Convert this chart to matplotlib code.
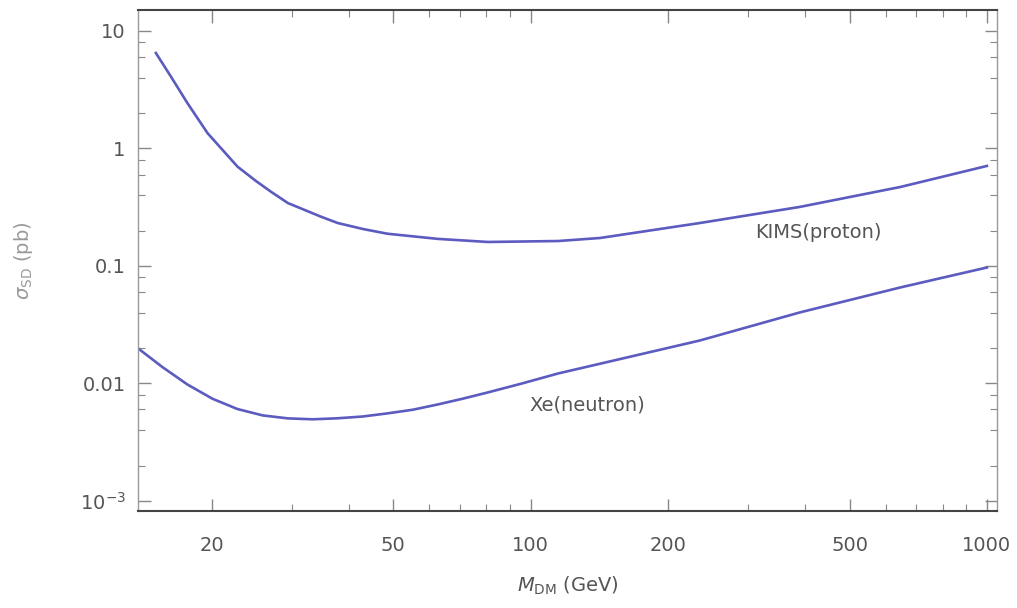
import matplotlib.pyplot as plt
from matplotlib.ticker import FixedLocator, NullFormatter, LogLocator

# data (mass in GeV, cross-section in pb)
kims_mass = [15.1, 16.3, 17.7, 19.6, 22.8, 25, 27.0, 29.4, 34.7, 37.8, 43, 48.6, 62.6, 80.6, 115,
             142, 235, 389, 646, 1000]
kims_sigma = [6.5, 4.08, 2.44, 1.35, 0.70, 0.53, 0.428, 0.343, 0.263, 0.232, 0.206, 0.188, 0.170,
              0.160, 0.163, 0.173, 0.232, 0.318, 0.47, 0.71]

xe_mass = [13.8, 15.6, 17.7, 20.1, 22.8, 25.9, 29.4, 33.3, 37.8, 42.9, 48.6, 55.2, 62.6, 71,
           80.6, 95.3, 115, 235, 389, 646, 1000]
xe_sigma = [0.0199, 0.0138, 0.0098, 0.0074, 0.00605, 0.00534, 0.00504, 0.00495, 0.00505,
            0.00523, 0.00556, 0.00597, 0.00662, 0.00741, 0.00838, 0.00994, 0.01216, 0.0232,
            0.0402, 0.0656, 0.097]

x_ticks = [20, 50, 100, 200, 500, 1000]
x_ticklabels = ['20', '50', '100', '200', '500', '1000']
y_ticks = [1e-3, 1e-2, 1e-1, 1, 10]
y_ticklabels = [r'$10^{-3}$', '0.01', '0.1', '1', '10']

line_color = '#5b5bc0'
text_color = '#555555'
frame_color = '#444444'

fig = plt.figure(figsize=(10.17, 6.08), dpi=100)
ax = fig.add_axes([0.1357, 0.1595, 0.8446, 0.8241])

ax.plot(kims_mass, kims_sigma, color=line_color, lw=1.9)
ax.plot(xe_mass, xe_sigma, color=line_color, lw=1.9)

ax.set_xscale('log')
ax.set_yscale('log')
ax.set_xlim(13.8, 1052)
ax.set_ylim(8.2e-4, 15.1)

ax.xaxis.set_major_locator(FixedLocator(x_ticks))
ax.set_xticklabels(x_ticklabels)
ax.xaxis.set_minor_locator(FixedLocator([30, 40, 60, 70, 80, 90, 300, 400, 600, 700, 800, 900]))
ax.xaxis.set_minor_formatter(NullFormatter())

ax.yaxis.set_major_locator(FixedLocator(y_ticks))
ax.set_yticklabels(y_ticklabels)
ax.yaxis.set_minor_locator(LogLocator(base=10, subs=(2, 4, 6, 8)))
ax.yaxis.set_minor_formatter(NullFormatter())

ax.tick_params(which='both', direction='in', top=True, right=True, colors='#888888',
               labelcolor=text_color, labelsize=14)
ax.tick_params(which='major', length=9, width=1)
ax.tick_params(which='minor', length=5, width=0.8)
ax.tick_params(axis='x', pad=18)
ax.tick_params(axis='y', pad=9)

for side in ['left', 'right']:
    ax.spines[side].set_color('#999999')
    ax.spines[side].set_linewidth(1)
for side in ['top', 'bottom']:
    ax.spines[side].set_color(frame_color)
    ax.spines[side].set_linewidth(1.5)

ax.set_xlabel(r'$M_{\rm DM}$ (GeV)', fontsize=14, color=text_color, labelpad=14)
ax.set_ylabel(r'$\sigma_{\rm SD}$ (pb)', fontsize=14, color='#999999', labelpad=32)

ax.text(310, 0.194, 'KIMS(proton)', fontsize=14, color=text_color, va='center', ha='left')
ax.text(99.6, 0.0065, 'Xe(neutron)', fontsize=14, color=text_color, va='center', ha='left')

fig.savefig('out.png', dpi=100)
